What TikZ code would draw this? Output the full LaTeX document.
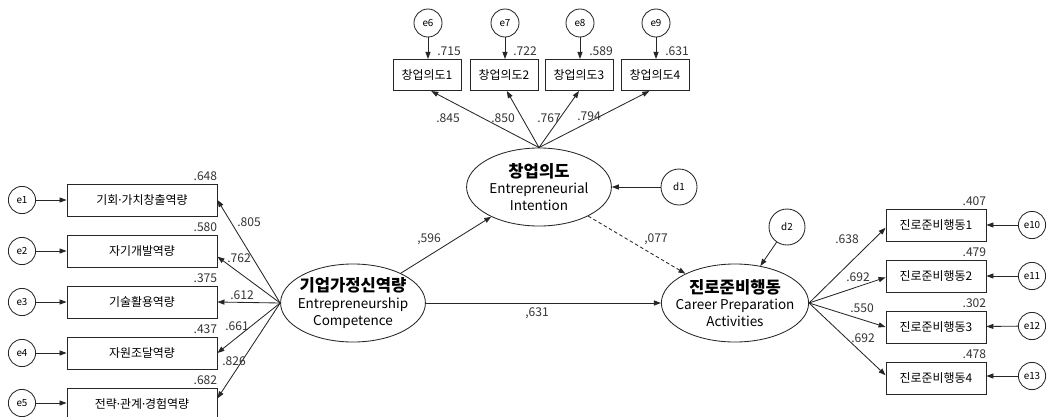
\documentclass[tikz,border=0pt]{standalone}
\usepackage{fontspec}
\setmainfont{Noto Sans CJK KR}
\newfontfamily\latinfont{Noto Sans}
\usetikzlibrary{shapes.geometric, arrows.meta, positioning, calc}
\tikzset{
    box_obs/.style={
        rectangle, draw=black!85, line width=0.6pt,
        minimum width=3.75cm, minimum height=0.8cm, inner sep=0pt,
        font=\fontsize{8.5}{9}\selectfont
    },
    box_top/.style={
        box_obs, minimum width=1.7cm, minimum height=0.78cm
    },
    box_right/.style={
        box_obs, minimum width=2.5cm
    },
    circ_err/.style={
        circle, draw=black!85, line width=0.6pt,
        minimum size=0.68cm, inner sep=0pt, font=\fontsize{7}{8}\selectfont
    },
    circ_dist/.style={
        circ_err, minimum size=0.9cm
    },
    ell_lat/.style={
        ellipse, draw=black!85, line width=0.6pt,
        minimum width=3.62cm, minimum height=1.95cm, inner sep=0pt
    },
    lat_text/.style={
        align=center, inner sep=0pt, font=\fontsize{9.6}{12}\selectfont
    },
    path_arrow/.style={
        -{Triangle[length=5pt,width=3.6pt]}, line width=0.6pt, draw=black!85
    },
    lbl/.style={
        font=\fontsize{8.6}{9}\selectfont, text=black!80, inner sep=0pt
    }
}
\newcommand{\lattitle}[1]{{\fontsize{11.8}{13}\selectfont\bfseries #1}}
\newcommand{\mdot}{{\latinfont ·}}

\begin{document}
\begin{tikzpicture}[x=0.025cm, y=-0.025cm]

    \useasboundingbox (0,0) rectangle (1048,416);

    % latent variables
    \node[ell_lat, label={[lat_text]center:\lattitle{기업가정신역량}\\Entrepreneurship\\Competence}] (epc) at (353,303) {};
    \node[ell_lat, label={[lat_text]center:\lattitle{창업의도}\\Entrepreneurial\\Intention}] (ei) at (539,187) {};
    \node[ell_lat, minimum width=3.68cm, label={[lat_text]center:\lattitle{진로준비행동}\\Career Preparation\\Activities}] (cpa) at (735,303) {};

    \node[circ_dist] (d1) at (679,187) {d1};
    \node[circ_dist] (d2) at (787,227) {d2};

    % left indicators
    \node[box_obs] (lb1) at (142,200) {기회\mdot 가치창출역량};
    \node[box_obs] (lb2) at (142,251) {자기개발역량};
    \node[box_obs] (lb3) at (142,302) {기술활용역량};
    \node[box_obs] (lb4) at (142,353) {자원조달역량};
    \node[box_obs] (lb5) at (142,404) {전략\mdot 관계\mdot 경험역량};

    \node[circ_err] (e1) at (22,200) {e1};
    \node[circ_err] (e2) at (22,251) {e2};
    \node[circ_err] (e3) at (22,302) {e3};
    \node[circ_err] (e4) at (22,353) {e4};
    \node[circ_err] (e5) at (22,403) {e5};

    % top indicators
    \node[box_top] (tb1) at (427,75) {창업의도1};
    \node[box_top] (tb2) at (504,75) {창업의도2};
    \node[box_top] (tb3) at (579,75) {창업의도3};
    \node[box_top] (tb4) at (655,75) {창업의도4};

    \node[circ_err, minimum size=0.7cm] (e6) at (428,23) {e6};
    \node[circ_err, minimum size=0.7cm] (e7) at (505,23) {e7};
    \node[circ_err, minimum size=0.7cm] (e8) at (580,23) {e8};
    \node[circ_err, minimum size=0.7cm] (e9) at (656,23) {e9};

    % right indicators
    \node[box_right] (rb1) at (936,225) {진로준비행동1};
    \node[box_right] (rb2) at (936,276) {진로준비행동2};
    \node[box_right] (rb3) at (936,327) {진로준비행동3};
    \node[box_right] (rb4) at (936,378) {진로준비행동4};

    \node[circ_err] (e10) at (1032,225) {e10};
    \node[circ_err] (e11) at (1032,276) {e11};
    \node[circ_err] (e12) at (1032,326) {e12};
    \node[circ_err] (e13) at (1032,376) {e13};

    % error arrows
    \draw[path_arrow] (e1) -- (lb1);
    \draw[path_arrow] (e2) -- (lb2);
    \draw[path_arrow] (e3) -- (lb3);
    \draw[path_arrow] (e4) -- (lb4);
    \draw[path_arrow] (e5) -- (lb5.west |- e5);
    \draw[path_arrow] (e6) -- (tb1.north -| e6);
    \draw[path_arrow] (e7) -- (tb2.north -| e7);
    \draw[path_arrow] (e8) -- (tb3.north -| e8);
    \draw[path_arrow] (e9) -- (tb4.north -| e9);
    \draw[path_arrow] (e10) -- (rb1);
    \draw[path_arrow] (e11) -- (rb2);
    \draw[path_arrow] (e12) -- (rb3);
    \draw[path_arrow] (e13) -- (rb4.east |- e13);
    \draw[path_arrow] (d1) -- (ei);
    \draw[path_arrow] (d2) -- (cpa);

    % loadings
    \draw[path_arrow] (epc.west) -- (lb1.east);
    \draw[path_arrow] (epc.west) -- ([yshift=-4pt]lb2.east);
    \draw[path_arrow] (epc.west) -- (lb3.east);
    \draw[path_arrow] (epc.west) -- (lb4.east);
    \draw[path_arrow] (epc.west) -- ([yshift=4pt]lb5.east);
    \draw[path_arrow] (ei.north) -- ([xshift=3pt]tb1.south);
    \draw[path_arrow] (ei.north) -- ([xshift=2pt]tb2.south);
    \draw[path_arrow] (ei.north) -- (tb3.south);
    \draw[path_arrow] (ei.north) -- ([xshift=-4pt]tb4.south);
    \draw[path_arrow] (cpa.east) -- ([yshift=-2pt]rb1.west);
    \draw[path_arrow] (cpa.east) -- ([yshift=-1pt]rb2.west);
    \draw[path_arrow] (cpa.east) -- (rb3.west);
    \draw[path_arrow] (cpa.east) -- ([yshift=2pt]rb4.west);

    % structural paths
    \draw[path_arrow] (epc) -- (ei);
    \draw[path_arrow] (epc) -- (cpa);
    \draw[path_arrow, dash pattern=on 2.5pt off 1.8pt] (ei) -- (cpa);

    % squared multiple correlations
    \node[lbl, anchor=south east] (r1) at ([yshift=2pt]lb1.north east) {.648};
    \node[lbl, anchor=south east] (r2) at ([yshift=2pt]lb2.north east) {.580};
    \node[lbl, anchor=south east] (r3) at ([yshift=2pt]lb3.north east) {.375};
    \node[lbl, anchor=south east] (r4) at ([yshift=2pt]lb4.north east) {.437};
    \node[lbl, anchor=south east] (r5) at ([yshift=2pt]lb5.north east) {.682};
    \node[lbl] (r6) at (449,51) {.715};
    \node[lbl] (r7) at (525,51) {.722};
    \node[lbl] (r8) at (601,51) {.589};
    \node[lbl] (r9) at (677,51) {.631};
    \node[lbl, anchor=south east] (r10) at ([yshift=2pt]rb1.north east) {.407};
    \node[lbl, anchor=south east] (r11) at ([yshift=2pt]rb2.north east) {.479};
    \node[lbl, anchor=south east] (r12) at ([yshift=2pt]rb3.north east) {.302};
    \node[lbl, anchor=south east] (r13) at ([yshift=2pt]rb4.north east) {.478};

    % path coefficients
    \node[lbl] (c1) at (249,222) {.805};
    \node[lbl] (c2) at (239,258) {.762};
    \node[lbl] (c3) at (242,295) {.612};
    \node[lbl] (c4) at (237,326) {.661};
    \node[lbl] (c5) at (234,361) {.826};
    \node[lbl] (c6) at (448,118) {.845};
    \node[lbl] (c7) at (503,118) {.850};
    \node[lbl] (c8) at (549,118) {.767};
    \node[lbl] (c9) at (589,116) {.794};
    \node[lbl] (c10) at (847,239) {.638};
    \node[lbl] (c11) at (858,277) {.692};
    \node[lbl] (c12) at (862,308) {.550};
    \node[lbl] (c13) at (863,338) {.692};
    \node[lbl] (c14) at (429,239) {,596};
    \node[lbl] (c15) at (656,239) {,077};
    \node[lbl] (c16) at (537,313) {,631};

\end{tikzpicture}
\end{document}
